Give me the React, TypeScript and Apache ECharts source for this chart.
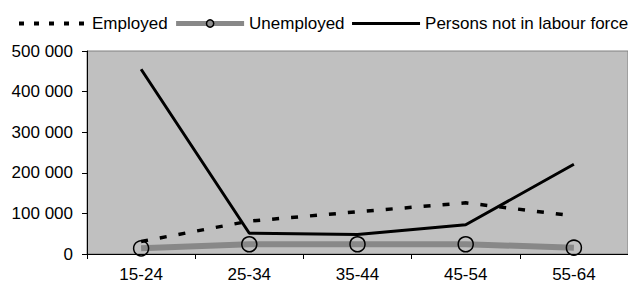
import React, { useEffect, useRef } from "react";
import * as echarts from "echarts";

const categories = ["15-24", "25-34", "35-44", "45-54", "55-64"];
const employed = [31000, 81000, 104000, 126000, 94000];
const unemployed = [14000, 24000, 24000, 24000, 15500];
const notInLabourForce = [455000, 51000, 48000, 72000, 221000];
const seriesNames = ["Employed", "Unemployed", "Persons not in labour force"];

const fmt = (v: number) => String(v).replace(/\B(?=(\d{3})+(?!\d))/g, " ");

export default function App() {
  const ref = useRef<HTMLDivElement>(null);
  useEffect(() => {
    document.body.style.margin = "0";
    const chart = echarts.init(ref.current!, null, { renderer: "svg" });
    const font = "Liberation Sans, Arial, sans-serif";
    chart.setOption({
      animation: false,
      backgroundColor: "#ffffff",
      textStyle: { fontFamily: font },
      legend: {
        left: 12,
        top: 10,
        width: 640,
        itemWidth: 68,
        itemHeight: 9,
        itemGap: 6,
        textStyle: { fontSize: 17, color: "#000", fontFamily: font },
        data: [
          { name: seriesNames[0], itemStyle: { opacity: 0 }, lineStyle: { width: 4, type: [5, 10] } },
          { name: seriesNames[1], itemStyle: { color: "#909090", borderColor: "#000", borderWidth: 1.5 }, lineStyle: { width: 5 } },
          { name: seriesNames[2], itemStyle: { opacity: 0 }, lineStyle: { width: 3 } },
        ],
      },
      grid: { left: 87, top: 51, width: 545, height: 203, show: true, backgroundColor: "#C0C0C0", borderColor: "#808080", borderWidth: 1 },
      xAxis: {
        type: "category",
        data: categories,
        boundaryGap: true,
        axisLine: { lineStyle: { color: "#000", width: 1 } },
        axisTick: { show: true, length: 5, lineStyle: { color: "#000" } },
        axisLabel: { fontSize: 17, color: "#000", margin: 12, fontFamily: font },
        splitLine: { show: false },
      },
      yAxis: {
        type: "value",
        min: 0,
        max: 500000,
        interval: 100000,
        axisLine: { show: true, lineStyle: { color: "#000", width: 1 } },
        axisTick: { show: true, length: 5, lineStyle: { color: "#000" } },
        axisLabel: { fontSize: 17, color: "#000", margin: 14, fontFamily: font, formatter: fmt },
        splitLine: { show: false },
      },
      series: [
        {
          name: seriesNames[0],
          type: "line",
          data: employed,
          symbol: "none",
          lineStyle: { color: "#000", width: 3.5, type: [7, 12] },
          itemStyle: { color: "#000" },
        },
        {
          name: seriesNames[1],
          type: "line",
          data: unemployed,
          symbol: "circle",
          symbolSize: 15,
          lineStyle: { color: "#888888", width: 6 },
          itemStyle: { color: "transparent", borderColor: "#000", borderWidth: 1.5 },
        },
        {
          name: seriesNames[2],
          type: "line",
          data: notInLabourForce,
          symbol: "none",
          lineStyle: { color: "#000", width: 3 },
          itemStyle: { color: "#000" },
        },
      ],
    });
    return () => chart.dispose();
  }, []);
  return <div ref={ref} style={{ width: 628, height: 287 }} />;
}
